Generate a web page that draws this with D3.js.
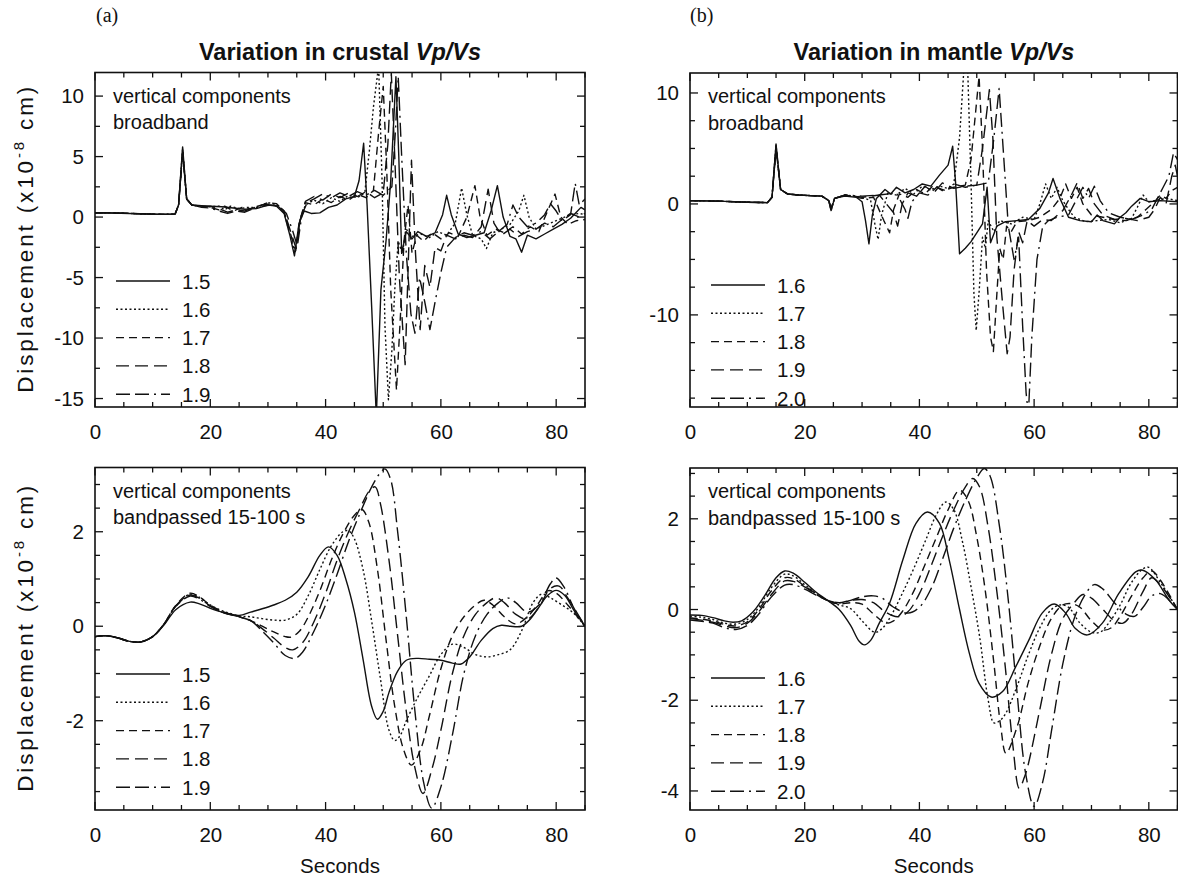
<!DOCTYPE html>
<html><head><meta charset="utf-8">
<script src="https://cdn.jsdelivr.net/npm/d3@7"></script>
<style>body{margin:0;background:#fff} text{font-family:"Liberation Sans",Arial,Helvetica,sans-serif;fill:#111}</style>
</head><body><svg id="c" width="1178" height="879"></svg>
<script>
// ---------------- DATA ----------------
const crustLabels = ["1.5","1.6","1.7","1.8","1.9"];
const mantleLabels = ["1.6","1.7","1.8","1.9","2.0"];
const xTickLabels = [0,20,40,60,80];
const yTicksCrustBroad = [-15,-10,-5,0,5,10];
const yTicksMantleBroad = [-10,0,10];
const yTicksCrustBand = [-2,0,2];
const yTicksMantleBand = [-4,-2,0,2];

// crustal Vp/Vs, broadband  [seconds, displacement]
const crustBroad15 = [[0,0.36],[3,0.34],[6,0.3],[9,0.25],[12,0.22],[13.9,0.25],[14.5,1.0],[15.2,5.8],[15.9,1.5],[16.8,1.0],[18.5,0.95],[20,0.9],[22,0.85],[24,0.75],[26,0.65],[28,0.7],[30,1.0],[31.5,0.9],[32.8,0.3],[33.8,-1.5],[34.6,-3.2],[35.4,-0.5],[36.3,0.5],[37.5,0.3],[39,0.35],[40.5,0.8],[42,1.0],[43.5,1.5],[45,1.7],[45.8,3.0],[46.6,6.1],[47.2,1.0],[48,-7.5],[48.8,-16.5],[49.6,-6],[50.5,-1.9],[51.3,3],[52.2,11.6],[52.7,5],[53.2,-3],[54,-1.2],[55,-1.8],[56,-1.2],[57.5,-1.6],[59,-1.3],[60.3,0.2],[61,1.8],[61.8,0.2],[63,-1.4],[64.5,-1.7],[66,-1.5],[67.5,-1.3],[68.7,0.5],[69.8,2.6],[70.8,0.0],[72,-1.6],[73,-1.8],[74,-2.9],[75,-1.5],[76.5,-1.8],[78,-1.4],[79.5,-1.0],[81,-0.6],[82.5,-0.1],[83.5,0.4],[84.3,0.8],[85,0.6]];
const crustBroad16 = [[0,0.36],[3,0.35],[6,0.3],[9,0.26],[12,0.22],[13.9,0.25],[14.5,1.0],[15.2,5.6],[15.9,1.5],[16.8,1.0],[18.5,0.9],[20,0.85],[21.5,0.9],[22.5,0.6],[23.5,0.9],[25,0.7],[26.5,0.8],[28,0.8],[30,1.2],[31.5,1.0],[32.8,0.4],[33.8,-1.4],[34.7,-3.0],[35.5,-0.3],[36.5,1.0],[38,1.4],[39.5,1.1],[41,1.6],[42.5,1.3],[44,1.8],[45.5,1.6],[46.8,2.0],[47.6,5.5],[48.3,9.1],[49.2,12.5],[49.8,3],[50.3,-9],[50.9,-15.1],[51.5,-11],[52,-6],[52.6,-2],[53.3,-3],[54,-1.0],[55,-1.6],[56.5,-1.4],[58,-1.7],[59.5,-1.2],[61,-1.5],[62.5,-0.5],[63.6,2.4],[64.5,0.2],[65.5,-1.5],[67,-1.8],[67.9,-2.6],[69,-1.3],[70.5,-1.0],[72,-0.6],[73.5,0.5],[74.4,1.8],[75.3,0.0],[76.5,-1.0],[78,-0.7],[79.5,-0.4],[81,-0.1],[82.5,0.2],[84,0.3],[85,0.2]];
const crustBroad17 = [[0,0.36],[3,0.34],[6,0.3],[9,0.25],[12,0.22],[13.9,0.25],[14.5,1.0],[15.2,5.5],[15.9,1.5],[16.8,1.0],[18.5,0.9],[20,0.8],[21.5,0.6],[22.5,0.9],[24,0.5],[25.5,0.8],[27,0.7],[28.5,0.9],[30,1.2],[31.5,1.1],[32.8,0.5],[33.8,-1.2],[34.8,-2.8],[35.6,-0.2],[36.5,1.2],[38,1.0],[39.5,1.5],[41,1.2],[42.5,1.7],[44,1.4],[45.5,1.9],[47,1.6],[48.3,2.2],[49.2,7],[50,10.8],[50.6,4],[51.3,-6],[52.3,-14.3],[53,-8],[53.6,-2],[54.3,1.0],[55,-3],[55.8,-1.5],[57,-2.0],[58.5,-1.3],[60,-1.8],[61.5,-1.3],[63,-1.6],[64.5,0.0],[65.9,2.6],[66.8,0.0],[68,-1.5],[69.5,-1.0],[71,-1.3],[72.5,-0.8],[74,-1.4],[75.5,-0.8],[77,-1.2],[78.5,0.5],[79.8,1.9],[80.8,0.0],[82,-0.6],[83.5,-0.3],[85,-0.2]];
const crustBroad18 = [[0,0.36],[3,0.34],[6,0.3],[9,0.25],[12,0.22],[13.9,0.25],[14.5,1.0],[15.2,5.4],[15.9,1.5],[16.8,1.0],[18.5,0.85],[20,0.9],[21.5,0.7],[23,0.4],[24.5,0.6],[26,0.5],[27.5,0.8],[29,1.0],[30.5,1.1],[32,0.8],[33,0.2],[34,-1.3],[34.9,-2.6],[35.7,0.0],[36.5,1.3],[38,1.7],[39.5,1.4],[41,1.9],[42.5,1.6],[44,2.0],[45.5,1.7],[47,2.1],[48.5,1.6],[50,2.0],[50.8,6],[51.4,11.9],[52,5],[52.8,-5],[53.8,-12.2],[54.4,-3],[54.9,4.7],[55.6,-3],[56.4,-9.3],[57.2,-4],[58.1,-5.8],[59,-2.5],[60,-2.8],[61,-1.5],[62.5,-1.8],[64,-1.5],[65.5,-1.7],[67,-0.8],[68.2,2.3],[69.2,-0.5],[70.5,-1.5],[72,-1.0],[73.5,-1.6],[75,-1.2],[76.5,-1.0],[78,-0.5],[79.5,-0.8],[81,-0.2],[82.5,0.3],[84,0.0],[85,0.3]];
const crustBroad19 = [[0,0.36],[3,0.34],[6,0.3],[9,0.25],[12,0.22],[13.9,0.25],[14.5,1.0],[15.2,5.3],[15.9,1.5],[16.8,1.0],[18.5,0.8],[20,0.75],[21.5,0.5],[23,0.3],[24.5,0.5],[26,0.4],[27.5,0.7],[29,0.9],[30.5,1.0],[32,0.9],[33.2,0.3],[34.2,-1.0],[35.1,-2.4],[35.9,0.2],[36.8,1.2],[38,1.5],[39.5,1.9],[41,1.6],[42.5,2.0],[44,1.7],[45.5,2.1],[47,1.8],[48.5,2.2],[50,1.8],[51.5,2.5],[52.1,7],[52.6,11.6],[53.2,5],[54,-3],[54.8,-8],[55.5,-9.6],[56.3,-5],[57.2,-7],[58.1,-9.3],[59,-7],[60,-4.6],[61,-2.5],[62.5,-1.7],[64,-1.3],[65.5,-1.5],[67,-1.2],[68.5,-1.8],[70,-1.2],[71.5,-0.6],[72.5,1.0],[73.5,0.0],[75,-0.8],[76.5,-0.5],[78,0.2],[79,1.1],[80,0.5],[81,-0.3],[82.5,0.2],[83.3,2.8],[84,1.0],[85,1.5]];

// mantle Vp/Vs, broadband
const mantleBroad16 = [[0,0.3],[5,0.25],[10,0.15],[13.5,0.12],[14.3,0.6],[15,5.4],[15.8,1.3],[17,0.9],[19,0.8],[21,0.75],[23,0.7],[24.2,0.3],[24.6,-0.6],[25.2,0.5],[27,0.7],[29,0.6],[30,0.2],[30.6,-1.5],[31.2,-3.6],[31.8,-1.0],[32.5,0.5],[34,1.3],[35,0.9],[36,1.5],[37.5,1.0],[39,1.3],[40.5,1.8],[42,1.6],[43.5,2.6],[45,3.5],[45.8,5.2],[46.3,2.0],[47,-4.5],[48,-4.0],[49,-3.4],[50,-2.6],[51,-1.8],[51.8,1.5],[52.4,-3.5],[53.5,-2.0],[55,-1.6],[57,-1.5],[59,-1.4],[61,-0.4],[62.5,1.0],[63.3,2.3],[64.5,0.5],[66,-1.2],[68,-1.5],[70,-1.6],[71,-1.0],[72,-1.5],[74,-1.8],[75,-1.2],[76,-0.8],[77,-0.2],[78.5,0.5],[80,0.2],[82,0.3],[85,0.2]];
const mantleBroad17 = [[0,0.3],[5,0.25],[10,0.15],[13.5,0.12],[14.3,0.6],[15,5.3],[15.8,1.3],[17,0.9],[19,0.8],[21,0.75],[23,0.7],[24.2,0.3],[24.6,-0.6],[25.2,0.5],[27,0.8],[29,0.7],[30,0.6],[31.5,0.3],[32.3,-2.0],[32.8,-3.2],[33.4,-1.0],[34.5,1.0],[36,0.8],[37.5,1.4],[39,0.9],[40.5,1.6],[42,1.3],[43.5,1.6],[45,1.4],[46,1.8],[47,6.0],[47.8,12.5],[48.4,12.5],[49,2],[49.5,-8],[49.9,-11.4],[50.4,-8],[51,-3],[51.5,-4],[52,-1.5],[53,-2.5],[54,-1.5],[56,-1.8],[58,-1.2],[60,-1.4],[61,0.0],[62,1.8],[63,0.5],[64,1.5],[65,0.3],[66,-0.5],[67,-1.2],[69,-1.6],[71,-1.5],[73,-1.4],[75,-1.7],[77,-1.3],[78,-0.3],[79,0.8],[80,0.2],[81,0.3],[83,0.5],[85,0.3]];
const mantleBroad18 = [[0,0.3],[5,0.25],[10,0.15],[13.5,0.12],[14.3,0.6],[15,5.2],[15.8,1.3],[17,0.9],[19,0.8],[21,0.75],[23,0.7],[24.2,0.3],[24.6,-0.5],[25.2,0.5],[27,0.8],[30,0.5],[32,0.6],[33.8,-1.5],[34.8,-2.6],[35.5,-0.5],[36.5,0.9],[38,0.6],[39.5,1.3],[41,0.9],[42.5,1.7],[44,1.2],[46,1.5],[48,1.7],[49,4],[50.4,11.5],[51,5],[51.7,-6],[52.4,-12],[52.9,-13.3],[53.4,-9],[54,-4],[54.6,-5],[55.2,-2],[56,-2.5],[57,-1.6],[59,-1.5],[61,-1.2],[63,-0.5],[64.5,0.5],[65.5,1.8],[66.5,0.5],[67.5,1.5],[68.5,0.0],[70,-1.0],[72,-1.2],[74,-1.4],[76,-1.5],[78,-1.2],[79.5,-0.5],[81,0.2],[82,0.8],[83,0.5],[84,1.2],[85,1.5]];
const mantleBroad19 = [[0,0.3],[5,0.25],[10,0.15],[13.5,0.12],[14.3,0.6],[15,5.1],[15.8,1.3],[17,0.9],[19,0.8],[21,0.75],[23,0.7],[24.2,0.3],[24.6,-0.4],[25.2,0.5],[27,0.8],[30,0.6],[33,0.8],[35.5,-0.8],[36.2,-2.0],[37,0.0],[38,1.0],[39.5,0.7],[41,1.6],[42.5,1.0],[44,1.9],[46,1.4],[48,1.6],[50,1.7],[51,5],[52.2,10.3],[52.8,6],[53.5,-3],[54.5,-9],[55.3,-13.5],[55.8,-12],[56.5,-6],[57.3,-2.5],[58,-3.5],[58.8,-1.5],[60,-2],[61.5,-1.4],[63,-1.5],[65,-0.6],[66.5,0.8],[67.5,1.9],[68.5,0.5],[69.5,1.4],[70.5,0.0],[72,-1.0],[74,-1.4],[76,-1.3],[78,-1.5],[80,-1.2],[81,-0.5],[82,0.6],[83,0.0],[84,2.5],[84.6,3.5],[85,2.5]];
const mantleBroad20 = [[0,0.3],[5,0.25],[10,0.15],[13.5,0.12],[14.3,0.6],[15,5.0],[15.8,1.3],[17,0.9],[19,0.8],[21,0.75],[23,0.7],[24.2,0.3],[24.6,-0.4],[25.2,0.5],[27,0.8],[30,0.7],[33,0.8],[36,1.0],[37.5,-0.5],[38,-1.3],[38.7,0.2],[40,1.0],[41.5,0.8],[43,1.5],[44.5,1.2],[46,1.8],[48,1.5],[50,1.7],[52,1.9],[53,6],[53.9,10.4],[54.6,5],[55.5,-2],[56.5,-5],[57.3,-3],[58,-11],[58.6,-17],[59,-19],[59.6,-12],[60.5,-5],[61.5,-2],[62.5,-1.5],[64,-1.2],[66,-1.0],[67.5,0.5],[68.5,1.5],[69.5,0.5],[70.5,1.6],[71.5,0.3],[73,-0.8],[75,-1.2],[77,-1.4],[79,-1.0],[80.5,-0.5],[81.5,0.5],[82.5,1.5],[83.5,2.5],[84.3,4.6],[85,4.0]];

// crustal Vp/Vs, bandpassed 15-100 s
const crustBand15 = [[0,-0.22],[2,-0.2],[4,-0.25],[6,-0.32],[8,-0.33],[10,-0.22],[12,0.03],[14,0.35],[16.5,0.51],[18,0.48],[20,0.38],[22,0.3],[25,0.23],[27,0.3],[29,0.37],[31,0.45],[33,0.55],[35,0.72],[37,1.05],[39,1.5],[40.5,1.68],[42,1.5],[43.5,1.0],[45,0.3],[46.5,-0.7],[48,-1.7],[49,-1.97],[50,-1.8],[51,-1.4],[52.5,-0.95],[54,-0.72],[56,-0.68],[58,-0.7],[60,-0.72],[62,-0.78],[63.5,-0.8],[65,-0.65],[67,-0.3],[69,-0.05],[70.5,0.02],[72,0.0],[74,0.0],[75.5,0.15],[77,0.4],[78.5,0.65],[80,0.76],[81.5,0.65],[83,0.35],[85,0.0]];
const crustBand16 = [[0,-0.22],[2,-0.2],[4,-0.25],[6,-0.32],[8,-0.33],[10,-0.22],[12,0.05],[14,0.42],[16.5,0.68],[18,0.62],[20,0.45],[22,0.33],[25,0.22],[27,0.2],[29,0.16],[31,0.13],[33,0.13],[35,0.25],[37,0.65],[39,1.2],[41,1.7],[43,2.0],[44,2.02],[45,1.85],[46.5,1.2],[48,0.1],[49.5,-1.1],[51,-2.2],[52,-2.42],[53,-2.3],[54,-2.0],[56,-1.5],[58,-1.05],[60,-0.6],[62,-0.38],[64,-0.45],[66,-0.6],[68,-0.65],[70,-0.6],[72,-0.5],[74,-0.1],[76,0.5],[77.5,0.68],[79,0.6],[81,0.45],[83,0.28],[85,0.0]];
const crustBand17 = [[0,-0.22],[2,-0.2],[4,-0.25],[6,-0.32],[8,-0.33],[10,-0.22],[12,0.05],[14,0.44],[16.5,0.7],[18,0.63],[20,0.45],[22,0.32],[25,0.2],[27,0.12],[29,0.0],[31,-0.12],[33,-0.22],[34,-0.23],[35.5,-0.1],[37,0.2],[39,0.75],[41,1.4],[43,1.95],[45,2.35],[46.3,2.47],[47.5,2.2],[49,1.2],[50.5,-0.3],[52,-1.7],[53.5,-2.6],[54.9,-2.94],[56.5,-2.6],[58,-1.9],[60,-0.9],[62,-0.2],[64,0.2],[66,0.45],[67.5,0.55],[69,0.45],[71,0.2],[73,0.05],[75,0.2],[77,0.5],[78.5,0.75],[80,0.7],[82,0.45],[85,0.0]];
const crustBand18 = [[0,-0.22],[2,-0.2],[4,-0.25],[6,-0.32],[8,-0.33],[10,-0.22],[12,0.05],[14,0.43],[16.5,0.66],[18,0.6],[20,0.43],[22,0.3],[25,0.2],[27,0.12],[29,-0.05],[31,-0.25],[33,-0.45],[34.3,-0.5],[36,-0.35],[38,0.1],[40,0.7],[42,1.4],[44,2.0],[46,2.5],[47.5,2.85],[48.6,2.95],[49.5,2.6],[51,1.4],[52.5,-0.2],[54,-1.8],[55.5,-3.0],[56.9,-3.54],[58.5,-3.0],[60,-2.2],[62,-1.0],[64,-0.2],[66,0.25],[68,0.5],[69.5,0.6],[71,0.5],[73,0.25],[75,0.15],[77,0.4],[79,0.8],[80.5,0.85],[82,0.6],[85,0.0]];
const crustBand19 = [[0,-0.22],[2,-0.2],[4,-0.25],[6,-0.32],[8,-0.33],[10,-0.22],[12,0.05],[14,0.42],[16.5,0.64],[18,0.58],[20,0.42],[22,0.3],[25,0.2],[27,0.12],[29,-0.1],[31,-0.35],[33,-0.62],[34.7,-0.68],[36,-0.55],[38,-0.1],[40,0.45],[42,1.1],[44,1.8],[46,2.4],[48,2.95],[49.5,3.25],[50.3,3.33],[51.3,3.1],[52.5,2.0],[54,0.2],[55.5,-1.8],[57,-3.3],[58.4,-3.85],[60,-3.4],[62,-2.3],[64,-1.0],[66,-0.2],[68,0.25],[70,0.5],[71.5,0.6],[73,0.5],[75,0.3],[77,0.45],[79,0.9],[80,1.02],[81.5,0.8],[83,0.4],[85,0.0]];

// mantle Vp/Vs, bandpassed 15-100 s
const mantleBand16 = [[0,-0.12],[2,-0.13],[4,-0.18],[6,-0.25],[7.5,-0.28],[9,-0.25],[11,-0.05],[13,0.3],[15,0.7],[16.5,0.85],[18,0.8],[20,0.6],[22,0.38],[24,0.2],[26,0.0],[28,-0.35],[29.5,-0.7],[30.4,-0.78],[31.5,-0.68],[33,-0.3],[34.8,0.14],[37.1,1.09],[39.4,1.9],[41.4,2.15],[43.5,1.9],[45.2,1.09],[47,0.0],[48.7,-0.96],[50.4,-1.63],[52.5,-1.93],[54.5,-1.81],[56.8,-1.26],[59.1,-0.67],[61.4,-0.08],[63.5,0.12],[65.5,-0.08],[67.2,-0.42],[69.3,-0.56],[71.9,-0.3],[74.8,0.36],[77.7,0.83],[78.8,0.87],[81.2,0.65],[83.5,0.21],[85,0.0]];
const mantleBand17 = [[0,-0.15],[2,-0.17],[4,-0.22],[6,-0.3],[8,-0.32],[10,-0.22],[12,0.05],[14,0.45],[16.5,0.78],[18,0.74],[20,0.55],[22,0.35],[24,0.2],[26,0.1],[28,0.02],[30,-0.25],[32.2,-0.5],[33.5,-0.42],[35,-0.15],[37,0.35],[39,0.9],[41,1.5],[43,2.1],[44.6,2.37],[46,2.2],[47.5,1.5],[49,0.5],[50.5,-0.6],[52,-2.0],[53,-2.5],[54,-2.45],[55,-2.3],[57,-1.7],[59,-1.0],[61,-0.4],[63,0.0],[64.5,0.1],[66,0.05],[68,-0.3],[70,-0.5],[71.5,-0.5],[73,-0.3],[75,0.1],[77,0.6],[79,0.9],[80,0.93],[82,0.6],[85,0.0]];
const mantleBand18 = [[0,-0.18],[4,-0.25],[6,-0.33],[8,-0.36],[10,-0.27],[12,0.0],[14,0.38],[16.5,0.7],[18,0.68],[20,0.52],[22,0.35],[24,0.2],[26,0.12],[28,0.15],[30,0.12],[32,-0.1],[34.2,-0.3],[35.5,-0.25],[37,-0.05],[39,0.4],[41,1.0],[43,1.6],[45,2.2],[47,2.63],[48.5,2.4],[50,1.6],[51.5,0.4],[53,-1.2],[54.2,-2.6],[55.1,-3.17],[57,-2.6],[59,-1.6],[61,-0.8],[63,-0.2],[65,0.1],[66.5,0.13],[68,0.05],[70,-0.25],[72,-0.45],[73.5,-0.4],[75,-0.15],[77,0.3],[79,0.7],[80.5,0.85],[82,0.65],[85,0.0]];
const mantleBand19 = [[0,-0.2],[4,-0.28],[6,-0.36],[8,-0.4],[10,-0.3],[12,-0.05],[14,0.3],[16.5,0.63],[18,0.62],[20,0.5],[22,0.33],[24,0.2],[26,0.15],[28,0.2],[30,0.22],[32,0.15],[34,-0.05],[36.2,-0.16],[38,-0.05],[40,0.35],[42,0.95],[44,1.6],[46,2.2],[48,2.7],[49.3,2.89],[50.5,2.7],[52,1.8],[53.5,0.4],[55,-1.3],[56.3,-3.0],[57.4,-3.94],[58.3,-3.7],[59,-3.4],[61,-2.2],[63,-1.0],[65,-0.2],[67,0.15],[68.5,0.33],[70,0.25],[72,0.0],[74,-0.25],[75.5,-0.3],[77,-0.1],[79,0.4],[80.5,0.7],[82,0.55],[85,0.0]];
const mantleBand20 = [[0,-0.23],[4,-0.3],[6,-0.4],[8,-0.44],[10,-0.35],[12,-0.1],[14,0.25],[16.5,0.54],[18,0.55],[20,0.45],[22,0.32],[24,0.2],[26,0.15],[28,0.2],[30,0.28],[32,0.3],[33.5,0.25],[35.5,0.05],[38,-0.08],[40,0.05],[42,0.45],[44,1.1],[46,1.8],[48,2.4],[50,2.9],[51.3,3.11],[52.3,2.95],[54,1.8],[55.5,0.2],[57,-1.8],[58.5,-3.6],[60,-4.34],[61.5,-3.8],[63,-2.7],[65,-1.2],[67,-0.2],[69,0.35],[70.5,0.55],[72,0.45],[74,0.15],[76,-0.1],[77.5,-0.15],[79,0.05],[80.5,0.3],[82,0.35],[84,0.15],[85,0.0]];

// ---------------- DRAWING ----------------
const svg = d3.select("#c");
const dashes = ["none","2,2.5","8,5","13,6","14,5,14,5,2,5"];
const FONT = "'Liberation Sans',Arial,Helvetica,sans-serif";

const panels = [
  {x0:95, x1:585, y0:72.5, y1:407, yd:[-15.7,11.95], minor:2.5, major:yTicksCrustBroad,
   series:[crustBroad15,crustBroad16,crustBroad17,crustBroad18,crustBroad19], labels:crustLabels,
   note:["vertical components","broadband"], curve:d3.curveLinear, legY:281, ylab:true, xlab:false},
  {x0:690, x1:1177.5, y0:73, y1:407, yd:[-18.3,11.8], minor:2.5, major:yTicksMantleBroad,
   series:[mantleBroad16,mantleBroad17,mantleBroad18,mantleBroad19,mantleBroad20], labels:mantleLabels,
   note:["vertical components","broadband"], curve:d3.curveLinear, legY:285, ylab:false, xlab:false},
  {x0:95, x1:585, y0:467.5, y1:810, yd:[-3.89,3.36], minor:0.5, major:yTicksCrustBand,
   series:[crustBand15,crustBand16,crustBand17,crustBand18,crustBand19], labels:crustLabels,
   note:["vertical components","bandpassed 15-100 s"], curve:d3.curveCatmullRom, legY:674, ylab:true, xlab:true},
  {x0:690, x1:1177.5, y0:468, y1:810, yd:[-4.42,3.12], minor:0.5, major:yTicksMantleBand,
   series:[mantleBand16,mantleBand17,mantleBand18,mantleBand19,mantleBand20], labels:mantleLabels,
   note:["vertical components","bandpassed 15-100 s"], curve:d3.curveCatmullRom, legY:678, ylab:false, xlab:true}
];

panels.forEach((p,i)=>{
  const x = d3.scaleLinear().domain([0,85]).range([p.x0,p.x1]);
  const y = d3.scaleLinear().domain(p.yd).range([p.y1,p.y0]);
  const g = svg.append("g");
  const cid = "clip"+i;
  svg.append("clipPath").attr("id",cid).append("rect")
    .attr("x",p.x0).attr("y",p.y0).attr("width",p.x1-p.x0).attr("height",p.y1-p.y0);

  // ticks (inward, on all four sides)
  const xMinor = d3.range(0,86,5);
  const yMinor = d3.range(Math.ceil(p.yd[0]/p.minor)*p.minor, p.yd[1]+1e-9, p.minor).map(v=>+v.toFixed(3));
  const isMajX = v=>xTickLabels.includes(v);
  const isMajY = v=>p.major.includes(v);
  const tickG = g.append("g").attr("stroke","#111").attr("stroke-width",1.3);
  xMinor.forEach(v=>{
    const L = isMajX(v)?8:5;
    tickG.append("line").attr("x1",x(v)).attr("x2",x(v)).attr("y1",p.y1).attr("y2",p.y1-L);
    tickG.append("line").attr("x1",x(v)).attr("x2",x(v)).attr("y1",p.y0).attr("y2",p.y0+L);
  });
  yMinor.forEach(v=>{
    const L = isMajY(v)?8:5;
    tickG.append("line").attr("x1",p.x0).attr("x2",p.x0+L).attr("y1",y(v)).attr("y2",y(v));
    tickG.append("line").attr("x1",p.x1).attr("x2",p.x1-L).attr("y1",y(v)).attr("y2",y(v));
  });

  // tick labels through axes
  const ax = g.append("g").attr("transform",`translate(0,${p.y1})`)
    .call(d3.axisBottom(x).tickValues(xTickLabels).tickSize(0).tickPadding(17).tickFormat(d=>String(d)));
  const ay = g.append("g").attr("transform",`translate(${p.x0},0)`)
    .call(d3.axisLeft(y).tickValues(p.major).tickSize(0).tickPadding(11).tickFormat(d=>String(d)));
  [ax,ay].forEach(a=>{a.select(".domain").remove(); a.selectAll("text").attr("font-size",20.5).attr("fill","#111")
     .style("font-family",FONT);});

  // curves
  const line = d3.line().x(d=>x(d[0])).y(d=>y(d[1])).curve(p.curve);
  const cg = g.append("g").attr("clip-path",`url(#${cid})`);
  p.series.forEach((s,k)=>{
    cg.append("path").attr("d",line(s)).attr("fill","none").attr("stroke","#111")
      .attr("stroke-width",1.4).attr("stroke-dasharray",dashes[k]).attr("stroke-linejoin","round");
  });

  // frame
  g.append("rect").attr("x",p.x0).attr("y",p.y0).attr("width",p.x1-p.x0).attr("height",p.y1-p.y0)
    .attr("fill","none").attr("stroke","#111").attr("stroke-width",1.6);

  // notes
  p.note.forEach((t,k)=>{
    g.append("text").attr("x",p.x0+18).attr("y",p.y0+30+k*26.5).attr("font-size",20).text(t);
  });

  // legend
  p.labels.forEach((lab,k)=>{
    const ly = p.legY + k*28.3;
    g.append("line").attr("x1",p.x0+21).attr("x2",p.x0+75).attr("y1",ly).attr("y2",ly)
      .attr("stroke","#111").attr("stroke-width",1.4).attr("stroke-dasharray",dashes[k]);
    g.append("text").attr("x",p.x0+87).attr("y",ly+7.5).attr("font-size",20.5).text(lab);
  });

  // y label
  if(p.ylab){
    const cy = (p.y0+p.y1)/2;
    const t = g.append("text").attr("transform",`translate(33,${cy}) rotate(-90)`)
      .attr("text-anchor","middle").attr("font-size",22.5)
      .attr("textLength",306).attr("lengthAdjust","spacing");
    t.append("tspan").text("Displacement (x10");
    t.append("tspan").attr("dy",-9).attr("font-size",15).text("-8");
    t.append("tspan").attr("dy",9).text(" cm)");
  }
  if(p.xlab){
    g.append("text").attr("x",(p.x0+p.x1)/2).attr("y",873).attr("text-anchor","middle")
      .attr("font-size",20.5).text("Seconds");
  }
});

// titles and panel letters
[[340,"Variation in crustal ",96,"(a)"],[934,"Variation in mantle ",690,"(b)"]].forEach(([cx,txt,lx,let])=>{
  const t = svg.append("text").attr("x",cx).attr("y",60).attr("text-anchor","middle")
    .attr("font-size",23.5).attr("font-weight","bold");
  t.append("tspan").text(txt);
  t.append("tspan").attr("font-style","italic").text("Vp/Vs");
  svg.append("text").attr("x",lx).attr("y",22).attr("font-size",20)
    .style("font-family","'Liberation Serif','Times New Roman',serif").text(let);
});
</script></body></html>
